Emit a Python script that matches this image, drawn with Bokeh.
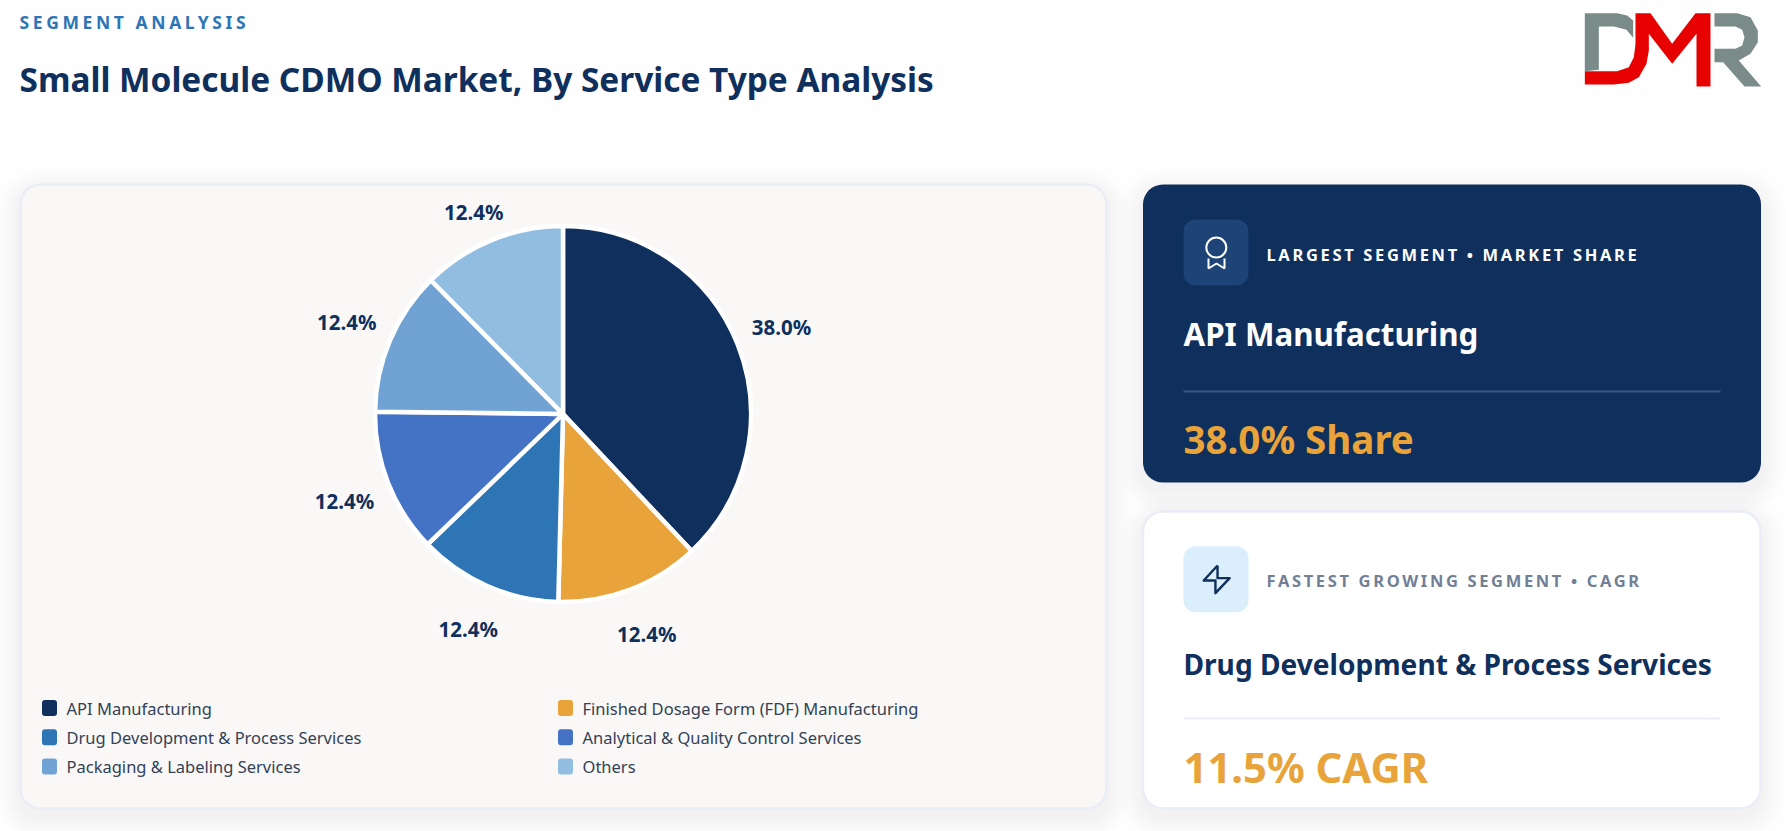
import numpy as np
from bokeh.core.properties import value
from bokeh.embed import file_html
from bokeh.models import Pane, Range1d
from bokeh.plotting import figure
from bokeh.resources import INLINE

# ---------- data ----------
categories = ["API Manufacturing", "Finished Dosage Form (FDF) Manufacturing",
              "Drug Development & Process Services", "Analytical & Quality Control Services",
              "Packaging & Labeling Services", "Others"]
shares = [38.0, 12.4, 12.4, 12.4, 12.4, 12.4]
slice_colors = ["#0f2f5c", "#e8a33a", "#2e75b6", "#4472c4", "#70a3d4", "#91bde0"]

eyebrow = "SEGMENT ANALYSIS"
headline = "Small Molecule CDMO Market, By Service Type Analysis"
card_a = ["LARGEST SEGMENT • MARKET SHARE", "API Manufacturing", "38.0% Share"]
card_b = ["FASTEST GROWING SEGMENT • CAGR", "Drug Development & Process Services", "11.5% CAGR"]

# ---------- canvas ----------
W, H = 1786, 831
FONT = value("Noto Sans")
NAVY, AMBER = "#0f2f5c", "#e8a33a"


def yy(v):
    return H - np.asarray(v, dtype=float)


def canvas(styles=None, fill="#fefefe"):
    f = figure(width=W, height=H, output_backend="svg", toolbar_location=None,
               x_range=Range1d(0, W), y_range=Range1d(0, H),
               min_border=0, styles=styles or {})
    f.axis.visible = False
    f.grid.visible = False
    f.outline_line_color = None
    f.background_fill_color = fill
    f.border_fill_color = fill
    return f


def rrect(f, l, t, r, b, radius, fill, line=None, lw=0, alpha=1.0):
    f.quad(left=[l], right=[r], top=[yy(t)], bottom=[yy(b)], border_radius=radius,
           fill_color=fill, fill_alpha=alpha, line_color=line, line_width=lw)


def shadow(f, l, t, r, b, radius, spread=24, dy=8, alpha=0.002):
    for s in range(spread, 0, -2):
        rrect(f, l - s, t - s + dy, r + s, b + s + dy, radius + s, "#0f2f5c", alpha=alpha)


def text(f, x, y, s, size, color, bold=True, align="left"):
    f.text(x=[x], y=[yy(y)], text=[s], text_font=FONT, text_font_size=f"{size}px",
           text_font_style="bold" if bold else "normal", text_color=color,
           text_align=align, text_baseline="middle")


ABS = {"position": "absolute", "left": "0px", "top": "0px"}
p = canvas(styles=ABS)

# ---------- headline ----------
text(p, 19, 78.8, headline, 33.4, NAVY)

# ---------- logo ----------
def logo(pts, color):
    pts = np.array(pts, dtype=float)
    p.patch(1500 + pts[:, 0] / 3, yy(pts[:, 1] / 3), fill_color=color, line_color=None)

logo([(253, 38), (350, 38), (380, 45), (398, 60), (398, 112), (378, 88), (340, 78), (295, 78),
      (295, 208), (253, 212)], "#7a8b89")
logo([(642, 38), (710, 38), (750, 50), (772, 90), (772, 125), (750, 160), (715, 180), (782, 258),
      (732, 258), (668, 185), (642, 185), (642, 145), (705, 145), (725, 135), (732, 110),
      (725, 88), (705, 78), (642, 78)], "#7a8b89")
logo([(405, 38), (450, 38), (515, 130), (585, 38), (630, 38), (630, 258), (588, 258), (588, 100),
      (515, 190), (445, 100), (445, 150), (438, 190), (415, 230), (385, 247), (340, 252),
      (253, 252), (253, 212), (350, 212), (385, 200), (400, 170), (405, 130)], "#e60000")

# ---------- left card ----------
shadow(p, 20, 184, 1106, 808, 20)
rrect(p, 20, 184, 1106, 808, 20, "#faf8f6", "#e9edf5", 2.5)

# ---------- pie, clockwise from 12 o'clock ----------
frac = np.array(shares) / sum(shares) * 2 * np.pi
ends = np.cumsum(frac)
starts = ends - frac
mids = (starts + ends) / 2
CX, CY = 562.5, 413.5
p.wedge(x=[CX] * 6, y=[yy(CY)] * 6, radius=188, radius_units="screen",
        start_angle=np.pi / 2 - starts, end_angle=np.pi / 2 - ends, direction="clock",
        fill_color=slice_colors, line_color="white", line_width=4.5)
p.text(x=CX + 235 * np.sin(mids), y=yy(np.maximum(CY - 235 * np.cos(mids), 211)),
       text=[f"{v:.1f}%" for v in shares], text_font=FONT, text_font_size="20.5px",
       text_font_style="bold", text_color=NAVY, text_align="center", text_baseline="middle")

# ---------- legend ----------
cols = np.array([i % 2 for i in range(6)])
rows = np.array([i // 2 for i in range(6)])
lx = 41.5 + 516 * cols
ly = 707.5 + 29.2 * rows
p.quad(left=lx, right=lx + 15, top=yy(ly - 8), bottom=yy(ly + 8), border_radius=3,
       fill_color=slice_colors, line_color=None)
p.text(x=lx + 24.5, y=yy(ly + 0.4), text=categories, text_font=FONT, text_font_size="16.5px",
       text_color="#334155", text_baseline="middle")

# ---------- dark card ----------
shadow(p, 1142.5, 184, 1760.5, 482, 20)
rrect(p, 1142.5, 184, 1760.5, 482, 20, NAVY)
rrect(p, 1183, 219, 1248, 285, 12, "#1e4377")
text(p, 1183, 333.5, card_a[1], 31.3, "#ffffff")
p.line([1183, 1720], yy([391, 391]), line_color="#3b5683", line_width=2)
text(p, 1183, 438.5, card_a[2], 38.5, AMBER)
# medal icon
p.scatter([1215.8], [yy(247)], size=20, marker="circle", fill_color=None, line_color="white", line_width=2)
p.line([1208, 1208, 1216, 1224, 1224], yy([258, 268, 263, 268, 258]), line_color="white", line_width=2)

# ---------- light card ----------
shadow(p, 1142.5, 511, 1760, 808, 20)
rrect(p, 1142.5, 511, 1760, 808, 20, "#ffffff", "#e9edf5", 2.5)
rrect(p, 1183, 545.7, 1248, 611.7, 12, "#dbeefc")
text(p, 1183, 663, card_b[1], 28.1, NAVY)
p.line([1183, 1720], yy([718, 718]), line_color="#e9edf5", line_width=2)
text(p, 1183, 766, card_b[2], 41.8, AMBER)
# bolt icon
bolt = np.array([(208, 195), (175, 240), (203, 240), (203, 278), (237, 233), (208, 233), (208, 195)], dtype=float)
p.line(1130 + bolt[:, 0] / 2.39, yy(500 + bolt[:, 1] / 3), line_color=NAVY, line_width=2.4, line_join="round")

# ---------- letter-spaced texts on transparent overlays ----------
def spaced(spacing):
    return canvas(styles={**ABS, "letter-spacing": spacing}, fill=None)

o1 = spaced("3.6px")
text(o1, 19, 21, eyebrow, 17.5, "#2e75b6")
o2 = spaced("2.65px")
text(o2, 1266, 254, card_a[0], 16.5, "#ffffff")
text(o2, 1266, 580, card_b[0], 16.5, "#718096")

page = Pane(elements=[p, o1, o2], styles={"display": "block", "width": "1770px", "height": "815px"})
open("out.html", "w").write(file_html(page, INLINE))
